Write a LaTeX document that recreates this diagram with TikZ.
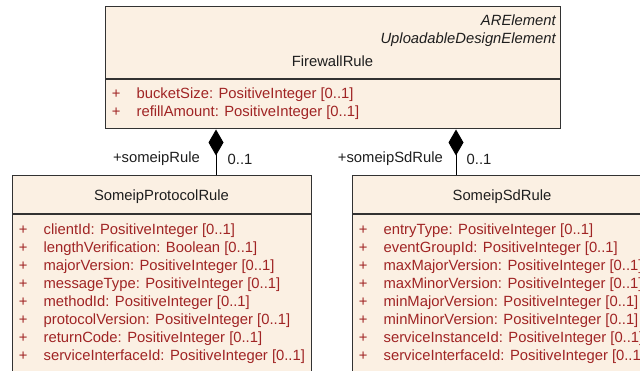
\documentclass[tikz,border=0pt]{standalone}
\usepackage{fontspec}
\setmainfont{Liberation Sans}
\usetikzlibrary{
    arrows.meta,
    positioning
}
\definecolor{classfill}{RGB}{251,240,227}
\definecolor{classline}{RGB}{50,50,50}
\definecolor{attrred}{RGB}{160,36,36}
\definecolor{titletext}{RGB}{30,30,30}

\begin{document}
\begin{tikzpicture}[
      x=1pt, y=-1pt,
      font=\fontsize{14.8}{18}\selectfont,
      classhead/.style={draw=classline, fill=classfill, line width=1pt, inner sep=0pt},
      classbody/.style={draw=classline, fill=classfill, line width=1pt, inner sep=0pt},
      title/.style={text=titletext, inner sep=0pt},
      stereo/.style={text=titletext, font=\fontsize{14.8}{18}\selectfont\itshape, inner sep=0pt, anchor=east},
      attrs/.style={text=attrred, inner sep=0pt, anchor=north west},
      role/.style={text=titletext, inner sep=0pt},
      comp/.style={draw=black, line width=1pt, -{Diamond[length=26pt, width=15pt]}}]
    \useasboundingbox (0,0) rectangle (640,371);
    \clip (0,0) rectangle (640,371);
    % FirewallRule
    \node[classhead, minimum width=455pt, minimum height=72pt] (fwhead) at (332.5,43) {};
    \node[classbody, minimum width=455pt, minimum height=49pt, below=0pt of fwhead] (fwbody) {};
    \node[stereo] (arel) at (556,20.5) {ARElement};
    \node[stereo] (upl) at (556,40) {UploadableDesignElement};
    \node[title] (fwname) at (332.5,61) {FirewallRule};
    \node[attrs] (fwattrs) at (111.6,85.6) {\begin{tabular}{@{}l@{\hspace{16.2pt}}l@{}}
        + & bucketSize: PositiveInteger [0..1]\\
        + & refillAmount: PositiveInteger [0..1]
      \end{tabular}};
    % SomeipProtocolRule
    \node[classhead, minimum width=299pt, minimum height=38.5pt] (protohead) at (161.5,194.75) {};
    \node[classbody, minimum width=299pt, minimum height=180pt, below=0pt of protohead] (protobody) {};
    \node[title] (protoname) at (161.5,197) {SomeipProtocolRule};
    \node[attrs] (protoattrs) at (18.6,221.6) {\begin{tabular}{@{}l@{\hspace{16.2pt}}l@{}}
        + & clientId: PositiveInteger [0..1]\\
        + & lengthVerification: Boolean [0..1]\\
        + & majorVersion: PositiveInteger [0..1]\\
        + & messageType: PositiveInteger [0..1]\\
        + & methodId: PositiveInteger [0..1]\\
        + & protocolVersion: PositiveInteger [0..1]\\
        + & returnCode: PositiveInteger [0..1]\\
        + & serviceInterfaceId: PositiveInteger [0..1]
      \end{tabular}};
    % SomeipSdRule
    \node[classhead, minimum width=298.6pt, minimum height=38.5pt] (sdhead) at (502,194.75) {};
    \node[classbody, minimum width=298.6pt, minimum height=180pt, below=0pt of sdhead] (sdbody) {};
    \node[title] (sdname) at (502,197) {SomeipSdRule};
    \node[attrs] (sdattrs) at (358.6,221.6) {\begin{tabular}{@{}l@{\hspace{16.2pt}}l@{}}
        + & entryType: PositiveInteger [0..1]\\
        + & eventGroupId: PositiveInteger [0..1]\\
        + & maxMajorVersion: PositiveInteger [0..1]\\
        + & maxMinorVersion: PositiveInteger [0..1]\\
        + & minMajorVersion: PositiveInteger [0..1]\\
        + & minMinorVersion: PositiveInteger [0..1]\\
        + & serviceInstanceId: PositiveInteger [0..1]\\
        + & serviceInterfaceId: PositiveInteger [0..1]
      \end{tabular}};
    % compositions
    \coordinate (protojoin) at (216,0);
    \coordinate (sdjoin) at (456,0);
    \draw[comp] (protohead.north -| protojoin) -- (fwbody.south -| protojoin);
    \draw[comp] (sdhead.north -| sdjoin) -- (fwbody.south -| sdjoin);
    \node[role, anchor=east] (protorole) at (200,159) {+someipRule};
    \node[role, anchor=west] (protomult) at (227.5,159) {0..1};
    \node[role, anchor=east] (sdrole) at (443,159) {+someipSdRule};
    \node[role, anchor=west] (sdmult) at (466.5,159) {0..1};
  \end{tikzpicture}
\end{document}
